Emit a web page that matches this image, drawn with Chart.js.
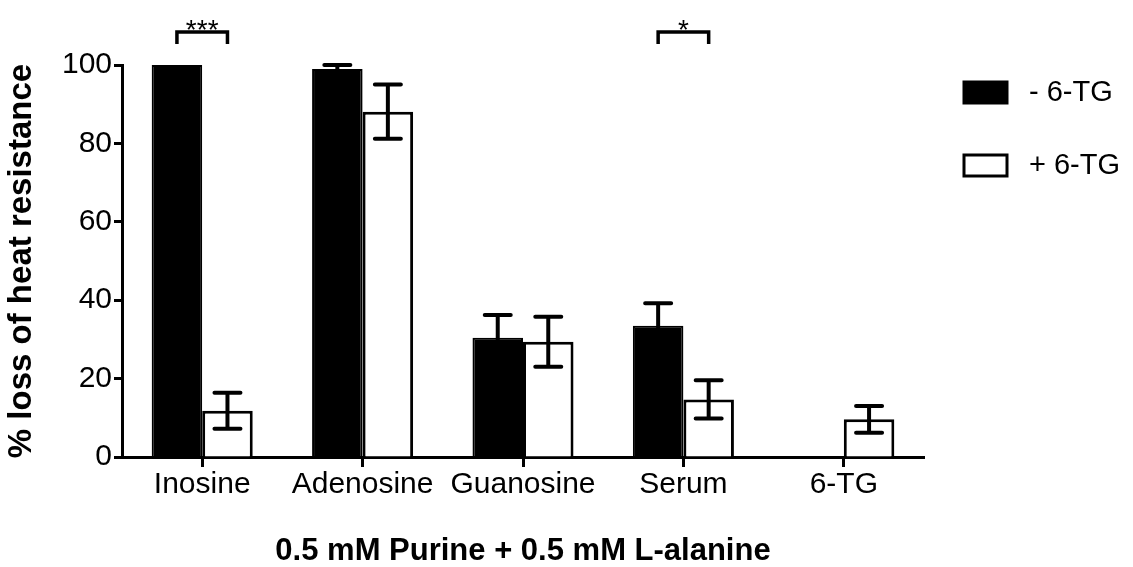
<!DOCTYPE html>
<html>
<head>
<meta charset="utf-8">
<script src="https://cdn.jsdelivr.net/npm/chart.js@4"></script>
<style>
  body { margin: 0; background: #fff; }
</style>
</head>
<body>
<canvas id="heatChart" width="1133" height="567"></canvas>
<script>
// data
const categories = ['Inosine', 'Adenosine', 'Guanosine', 'Serum', '6-TG'];
const minusTG = [100, 99, 30.4, 33.5, 0];
const minusTGErr = [0, 1, 5.8, 5.7, 0];
const plusTG = [11.8, 88.1, 29.4, 14.7, 9.6];
const plusTGErr = [4.6, 6.9, 6.4, 4.9, 3.4];
const sigMarks = ['***', '', '', '*', ''];
const yTicks = [0, 20, 40, 60, 80, 100];

const errors = [minusTGErr, plusTGErr];
const fontFamily = 'Arial, "Liberation Sans", sans-serif';

// error bars: vertical line with a cap at each end
const errorBars = {
    id: 'errorBars',
    afterDatasetsDraw(chart) {
        const c = chart.ctx;
        const y = chart.scales.y;
        c.save();
        c.strokeStyle = '#000';
        c.lineWidth = 4;
        chart.data.datasets.forEach((ds, i) => {
            chart.getDatasetMeta(i).data.forEach((bar, j) => {
                const err = errors[i][j];
                if (!err) return;
                const top = y.getPixelForValue(ds.data[j] + err);
                const bottom = y.getPixelForValue(ds.data[j] - err);
                c.lineCap = 'butt';
                c.beginPath();
                c.moveTo(bar.x, top);
                c.lineTo(bar.x, bottom);
                c.stroke();
                c.lineCap = 'round';
                c.beginPath();
                c.moveTo(bar.x - 13, top);
                c.lineTo(bar.x + 13, top);
                c.moveTo(bar.x - 13, bottom);
                c.lineTo(bar.x + 13, bottom);
                c.stroke();
            });
        });
        c.restore();
    }
};

// significance brackets over the two bars of a group
const sigBrackets = {
    id: 'sigBrackets',
    afterDraw(chart) {
        const c = chart.ctx;
        const m0 = chart.getDatasetMeta(0).data;
        const m1 = chart.getDatasetMeta(1).data;
        c.save();
        c.strokeStyle = '#000';
        c.fillStyle = '#000';
        c.lineWidth = 3.5;
        c.font = '28px ' + fontFamily;
        c.textAlign = 'center';
        c.textBaseline = 'alphabetic';
        sigMarks.forEach((mark, j) => {
            if (!mark) return;
            const x0 = m0[j].x, x1 = m1[j].x;
            c.beginPath();
            c.moveTo(x0, 44);
            c.lineTo(x0, 32);
            c.lineTo(x1, 32);
            c.lineTo(x1, 44);
            c.stroke();
            c.fillText(mark, (x0 + x1) / 2, 39);
        });
        c.restore();
    }
};

// legend on the right
const sideLegend = {
    id: 'sideLegend',
    afterDraw(chart) {
        const c = chart.ctx;
        c.save();
        c.font = '29px ' + fontFamily;
        c.textBaseline = 'middle';
        c.textAlign = 'left';
        chart.data.datasets.forEach((ds, i) => {
            const top = 82 + i * 73;
            c.fillStyle = ds.backgroundColor;
            c.fillRect(964, top, 43, 21);
            c.strokeStyle = ds.borderColor;
            c.lineWidth = 3;
            c.strokeRect(964, top, 43, 21);
            c.fillStyle = '#000';
            c.fillText(ds.label, 1029, top + 11);
        });
        c.restore();
    }
};

const ctx = document.getElementById('heatChart');
new Chart(ctx, {
    type: 'bar',
    data: {
        labels: categories,
        datasets: [{
            label: '- 6-TG',
            data: minusTG,
            backgroundColor: '#000',
            borderColor: '#000',
            borderWidth: 2
        }, {
            label: '+ 6-TG',
            data: plusTG,
            backgroundColor: '#fff',
            borderColor: '#000',
            borderWidth: 3
        }]
    },
    options: {
        responsive: false,
        animation: false,
        categoryPercentage: 0.63,
        barPercentage: 1,
        layout: {
            padding: { top: 65, right: 209, bottom: 0, left: 0 }
        },
        plugins: {
            legend: { display: false },
            tooltip: { enabled: false }
        },
        scales: {
            x: {
                grid: {
                    offset: false,
                    drawOnChartArea: false,
                    tickLength: 10,
                    tickWidth: 3,
                    tickColor: '#000'
                },
                border: { color: '#000', width: 3 },
                ticks: {
                    color: '#000',
                    padding: 0,
                    font: { family: fontFamily, size: 30 }
                },
                title: {
                    display: true,
                    text: '0.5 mM Purine + 0.5 mM L-alanine',
                    color: '#000',
                    padding: { top: 0, bottom: 0 },
                    font: { family: fontFamily, size: 31, weight: 'bold', lineHeight: 1 }
                },
                afterFit: (scale) => { scale.height = 110; }
            },
            y: {
                min: 0,
                max: 100,
                afterBuildTicks: (scale) => { scale.ticks = yTicks.map(v => ({ value: v })); },
                grid: {
                    drawOnChartArea: false,
                    tickLength: 8,
                    tickWidth: 3,
                    tickColor: '#000'
                },
                border: { color: '#000', width: 3 },
                ticks: {
                    color: '#000',
                    padding: 2,
                    font: { family: fontFamily, size: 30 }
                },
                title: {
                    display: true,
                    text: '% loss of heat resistance',
                    color: '#000',
                    padding: { top: 2, bottom: 0 },
                    font: { family: fontFamily, size: 33, weight: 'bold' }
                },
                afterFit: (scale) => { scale.width = 122; }
            }
        }
    },
    plugins: [errorBars, sigBrackets, sideLegend]
});
</script>
</body>
</html>
